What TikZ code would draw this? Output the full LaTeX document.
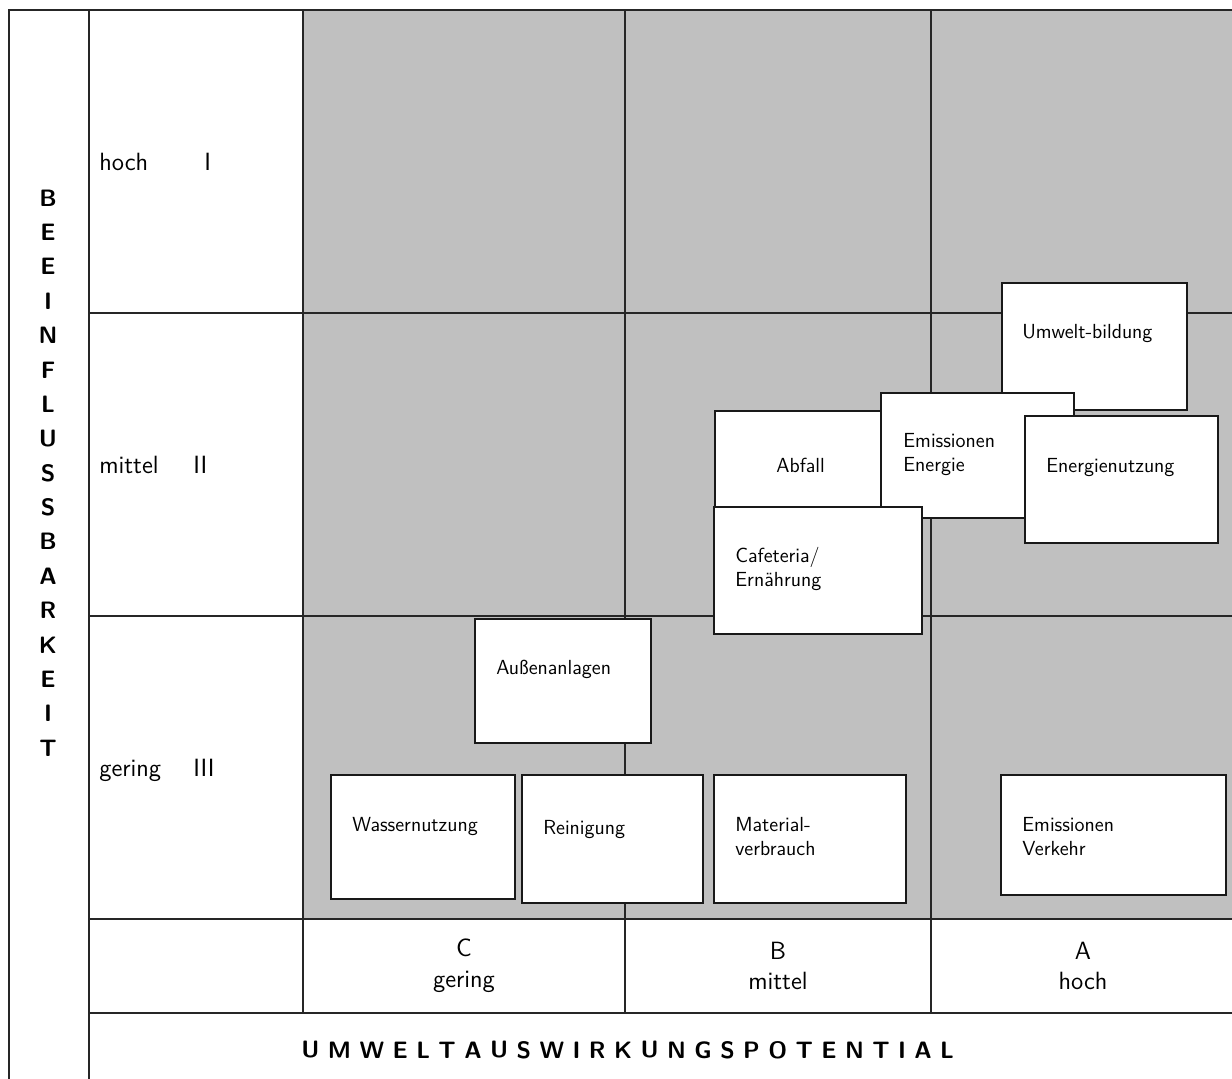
\documentclass[tikz,border=0pt]{standalone}
\usepackage{tikz}
\usetikzlibrary{positioning}
\definecolor{cellgray}{HTML}{C0C0C0}

\begin{document}
\begin{tikzpicture}[x=0.02cm, y=-0.02cm,
  grid/.style={line width=0.8pt, draw=black!85},
  card/.style={draw=black!90, fill=white, line width=1.3pt},
  cardtext/.style={anchor=north west, inner sep=0pt, align=left,
    font=\sffamily\fontsize{11.6}{13.6}\selectfont},
  rowlabel/.style={anchor=base west, inner sep=0pt,
    font=\sffamily\fontsize{14.2}{16}\selectfont},
  collabel/.style={align=center, inner sep=0pt,
    font=\sffamily\fontsize{14.2}{17.5}\selectfont},
  axisletter/.style={inner sep=0pt, font=\sffamily\bfseries\fontsize{13.5}{15}\selectfont}]
\useasboundingbox (0,0) rectangle (1232,1079);

% grey field
\fill[cellgray] (303,10) rectangle (1232,919);

% frame and grid
\draw[grid] (9,1079) -- (9,10) -- (1232,10);
\draw[grid] (89,10) -- (89,1079);
\draw[grid] (89,313) -- (1232,313);
\draw[grid] (89,616) -- (1232,616);
\draw[grid] (89,919) -- (1232,919);
\draw[grid] (89,1013) -- (1232,1013);
\draw[grid] (303,10) -- (303,1013);
\draw[grid] (625,10) -- (625,1013);
\draw[grid] (931,10) -- (931,1013);

% row labels
\node[rowlabel] (hoch) at (99,170) {hoch};
\node[rowlabel] (romI) at (204,170) {I};
\node[rowlabel] (mittel) at (99,473) {mittel};
\node[rowlabel] (romII) at (193,473) {II};
\node[rowlabel] (gering) at (99,776) {gering};
\node[rowlabel] (romIII) at (193,776) {III};

% column labels
\node[collabel] (colC) at (464,966) {C\\gering};
\node[collabel] (colB) at (778,966) {B\\mittel};
\node[collabel] (colA) at (1083,966) {A\\hoch};

% vertical axis title
\foreach \l [count=\i from 0] in {B,E,E,I,N,F,L,U,S,S,B,A,R,K,E,I,T}
  \node[axisletter] (v\i) at (48,198+34.375*\i) {\l};

% horizontal axis title
\node[axisletter, anchor=west] (u0) at (301,1050) {U};
\foreach \l [count=\i, remember=\i as \lasti (initially 0)] in
    {M,W,E,L,T,A,U,S,W,I,R,K,U,N,G,S,P,O,T,E,N,T,I,A,L}
  \node[axisletter, right=4.4pt of u\lasti] (u\i) {\l};

% cards
\draw[card] (1002,283) rectangle (1187,410);
\node[cardtext] (umwelt) at (1022,324) {Umwelt-bildung};

\draw[card] (715,411) rectangle (900,530);
\node[cardtext] (abfall) at (776,458) {Abfall};

\draw[card] (881,393) rectangle (1074,518);
\node[cardtext] (emenergie) at (903,433) {Emissionen\\Energie};

\draw[card] (1025,416) rectangle (1218,543);
\node[cardtext] (energie) at (1046,458) {Energienutzung};

\draw[card] (714,507) rectangle (922,634);
\node[cardtext] (cafeteria) at (735,547) {Cafeteria/\\Ernährung};

\draw[card] (475,619) rectangle (651,743);
\node[cardtext] (aussen) at (496,660) {Außenanlagen};

\draw[card] (331,775) rectangle (515,899);
\node[cardtext] (wasser) at (352,817) {Wassernutzung};

\draw[card] (522,775) rectangle (703,903);
\node[cardtext] (reinigung) at (543,820) {Reinigung};

\draw[card] (714,775) rectangle (906,903);
\node[cardtext] (material) at (735,817) {Material-\\verbrauch};

\draw[card] (1001,775) rectangle (1226,895);
\node[cardtext] (verkehr) at (1022,817) {Emissionen\\Verkehr};

\end{tikzpicture}
\end{document}
